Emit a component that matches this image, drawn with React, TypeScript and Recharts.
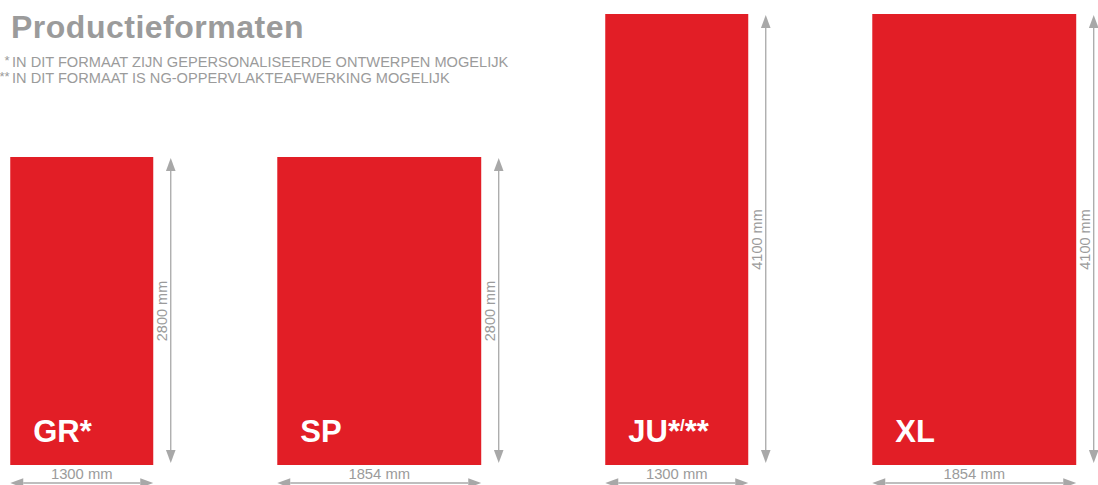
import React from "react";
import { Bar, BarChart, XAxis, YAxis } from "recharts";

// production formats, sizes in mm
const formats = ["GR", "SP", "JU", "XL"];
const marks = ["*", "", "*/**", ""];
const widthsMm = [1300, 1854, 1300, 1854];
const heightsMm = [2800, 2800, 4100, 4100];

const notes = [
  { mark: "*", text: "IN DIT FORMAAT ZIJN GEPERSONALISEERDE ONTWERPEN MOGELIJK" },
  { mark: "**", text: "IN DIT FORMAAT IS NG-OPPERVLAKTEAFWERKING MOGELIJK" },
];

const data = formats.map((name, i) => ({
  name,
  mark: marks[i],
  widthMm: widthsMm[i],
  heightMm: heightsMm[i],
}));

const RED = "#e21e26";
const GRAY = "#9b9b9b";
const ARROW = "#a8a8a8";
const FONT = '"Liberation Sans", Arial, Helvetica, sans-serif';

function Label({ x, y, name, mark }: { x: number; y: number; name: string; mark: string }) {
  return (
    <text x={x} y={y} fill="#fff" fontSize={31} fontWeight={700} fontFamily={FONT}>
      {name}
      {mark === "*/**" ? (
        <>
          <tspan>*</tspan>
          <tspan fontSize={17} dy={-11}>/</tspan>
          <tspan dy={11}>**</tspan>
        </>
      ) : (
        mark && <tspan>{mark}</tspan>
      )}
    </text>
  );
}

const SizeBox = (props: any) => {
  const { x, y, width, height, payload } = props;
  const cx = x + width / 2;
  const pxPerMm = height / payload.heightMm;
  const w = payload.widthMm * pxPerMm;
  const left = cx - w / 2;
  const right = left + w;
  const top = y;
  const bottom = y + height;
  const ax = right + 17.5;
  const ay = bottom + 18;
  const head = 13;
  const hw = 4.8;
  return (
    <g>
      <rect x={left} y={top} width={w} height={height} fill={RED} />
      <Label x={left + 23} y={bottom - 23} name={payload.name} mark={payload.mark} />

      {/* height arrow */}
      <line x1={ax} y1={top + head} x2={ax} y2={bottom - 2 - head} stroke={ARROW} strokeWidth={1.3} />
      <polygon points={`${ax},${top + 1} ${ax - hw},${top + 1 + head} ${ax + hw},${top + 1 + head}`} fill={ARROW} />
      <polygon points={`${ax},${bottom - 2} ${ax - hw},${bottom - 2 - head} ${ax + hw},${bottom - 2 - head}`} fill={ARROW} />
      <text
        x={right + 14}
        y={(top + bottom) / 2}
        transform={`rotate(-90 ${right + 14} ${(top + bottom) / 2})`}
        textAnchor="middle"
        fill={GRAY}
        fontSize={14.5}
        fontFamily={FONT}
      >
        {payload.heightMm} mm
      </text>

      {/* width arrow */}
      <line x1={left + head} y1={ay} x2={right - head} y2={ay} stroke={ARROW} strokeWidth={1.3} />
      <polygon points={`${left},${ay} ${left + head},${ay - hw} ${left + head},${ay + hw}`} fill={ARROW} />
      <polygon points={`${right},${ay} ${right - head},${ay - hw} ${right - head},${ay + hw}`} fill={ARROW} />
      <text x={cx} y={bottom + 14} textAnchor="middle" fill={GRAY} fontSize={14.8} fontFamily={FONT}>
        {payload.widthMm} mm
      </text>
    </g>
  );
};

export default function App() {
  return (
    <div
      style={{
        position: "absolute",
        left: 0,
        top: 0,
        width: 1098,
        height: 485,
        overflow: "hidden",
        background: "#fff",
        fontFamily: FONT,
      }}
    >
      <div style={{ position: "absolute", left: -67.25, top: 0 }}>
        <BarChart width={1190} height={485} data={data} margin={{ top: 14, right: 0, bottom: 20, left: 0 }}>
          <XAxis dataKey="name" hide />
          <YAxis hide domain={[0, "dataMax"]} />
          <Bar dataKey="heightMm" shape={SizeBox} isAnimationActive={false} />
        </BarChart>
      </div>

      <svg width={1098} height={100} style={{ position: "absolute", left: 0, top: 0 }}>
        <text x={11} y={38} fill={GRAY} fontSize={32} fontWeight={700} letterSpacing={0.5} fontFamily={FONT}>
          Productieformaten
        </text>
        {notes.map((n, i) => (
          <g key={n.mark}>
            <text x={9.5} y={65 + i * 16} textAnchor="end" fill={GRAY} fontSize={13} fontFamily={FONT}>
              {n.mark}
            </text>
            <text x={12} y={67 + i * 16} fill={GRAY} fontSize={14.6} fontFamily={FONT}>
              {n.text}
            </text>
          </g>
        ))}
      </svg>
    </div>
  );
}
